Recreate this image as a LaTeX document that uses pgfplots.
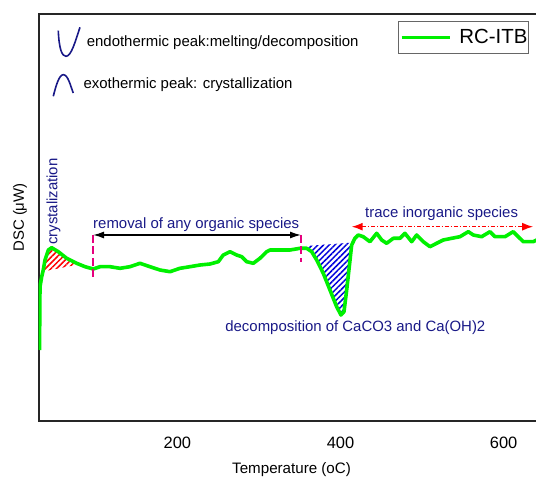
\documentclass[border=0pt]{standalone}
\usepackage{pgfplots}
\pgfplotsset{compat=1.18}
\usepackage{fontspec}
\setmainfont{Liberation Sans}
\usetikzlibrary{arrows.meta,patterns.meta,calc}

\definecolor{dscgreen}{RGB}{0,240,0}
\definecolor{annblue}{RGB}{25,25,135}
\definecolor{markpink}{RGB}{230,0,125}
\definecolor{hatchred}{RGB}{255,0,0}
\definecolor{hatchblue}{RGB}{0,0,220}

\begin{document}
\begin{tikzpicture}[font=\fontsize{15}{18}\selectfont]
\begin{axis}[
  scale only axis,
  width=505.7bp, height=407bp,
  xmin=30, xmax=650, ymin=0, ymax=407,
  xtick={200,400,600},
  ytick=\empty,
  major tick length=0pt,
  axis line style={line width=1.8bp, black!85},
  /pgf/number format/assume math mode=true,
  xticklabel style={font=\fontsize{16.5}{18}\selectfont, anchor=base, yshift=-27.3bp},
  xlabel={Temperature (oC)},
  ylabel={DSC (μW)},
  every axis x label/.style={at={(axis description cs:0.5,-0.129)}, anchor=base, font=\fontsize{15.2}{18}\selectfont},
  every axis y label/.style={at={(axis description cs:-0.0291,0.5)}, rotate=90, anchor=base, font=\fontsize{15}{18}\selectfont},
  legend style={at={(0.7111,0.9828)}, anchor=north west, draw=black!60, line width=0.9bp, fill=white,
    inner xsep=1bp, inner ysep=8bp, font=\fontsize{20.5}{22}\selectfont, nodes={inner sep=0pt},
    /tikz/every odd column/.append style={column sep=7.7bp}},
  legend cell align=left,
  legend image code/.code={\draw[#1] (0bp,0bp) -- (48.3bp,0bp);},
]
\coordinate (nw) at (rel axis cs:0,1);

% exothermic area (crystallization)
\addplot[forget plot, draw=none, pattern={Lines[angle=45,distance=4bp,line width=1.5bp]}, pattern color=hatchred]
  coordinates {(35.6,149.5) (37.7,161) (41.8,171) (45.9,173.3) (54.0,169.3) (64.3,162.7) (76.6,157.7) (78.2,156.5)};
% endothermic area (decomposition)
\addplot[forget plot, draw=none, pattern={Lines[angle=45,distance=4bp,line width=1.5bp]}, pattern color=hatchblue]
  coordinates {(358.5,175) (358.5,172.7) (364.7,169.3) (370.8,161) (378.9,147.7) (387.1,131) (395.3,114.3)
    (400.6,106) (404.3,109.3) (407.6,131) (410.8,154.3) (413.7,176) (415.2,178.5)};

% DSC curve
\addplot[dscgreen, line width=3.6bp, line join=round] coordinates {
  (31,71) (31.6,134.3) (33.7,144.3) (35.6,151) (37.7,161) (41.8,171) (45.9,173.3) (54.0,169.3)
  (64.3,162.7) (76.6,157.7) (86.8,154.3) (96.9,152) (105.1,154.3) (117.4,154.3) (129.7,152.7)
  (141.9,154.3) (154.2,157.7) (166.4,154.3) (178.7,151) (191.0,149.3) (203.2,152.7) (215.5,154.3)
  (227.7,156) (240.0,157) (250.2,159.3) (256.3,166) (264.5,169.3) (272.7,166) (278.9,164.3)
  (285.0,159.3) (293.1,157.7) (301.3,162.7) (309.5,169.3) (313.6,171) (325.8,171) (338.1,171)
  (350.3,172.7) (358.5,172.7) (364.7,169.3) (370.8,161) (378.9,147.7) (387.1,131) (395.3,114.3)
  (400.6,106) (404.3,109.3) (407.6,131) (410.8,154.3) (413.7,176) (417.7,182.7) (421.8,186)
  (427.9,184.3) (436.1,179.3) (444.4,187.7) (450.5,181) (456.6,177.7) (464.7,182.7) (472.9,182.7)
  (479.0,187.7) (487.3,179.3) (493.4,186) (501.5,179.3) (509.7,174.3) (517.9,177.7) (526.0,181)
  (536.3,182.7) (546.5,184.3) (556.7,189.3) (562.8,186) (573.1,184.3) (583.2,189.3) (589.4,184.3)
  (601.6,184.3) (611.8,189.3) (617.9,184.3) (624.1,179.3) (636.3,179.3) (640.5,181) (649.5,183)
};
\addlegendentry{RC-ITB}

% peak-type key
\draw[annblue, line width=1.6bp] (axis cs:54.0,390.3) .. controls (axis cs:55,372) and (axis cs:58.5,364.7) .. (axis cs:63.5,364.7)
  .. controls (axis cs:70,364.7) and (axis cs:75,380) .. (axis cs:80.6,393.7);
\node[anchor=base west, inner sep=0pt] at (axis cs:88.8,374.7) {endothermic peak:melting/decomposition};
\draw[annblue, line width=1.6bp] (axis cs:47.9,324.7) .. controls (axis cs:51,335) and (axis cs:55,346.3) .. (axis cs:60.2,346.3)
  .. controls (axis cs:66,346.3) and (axis cs:69,335) .. (axis cs:72.4,328);
\node[anchor=base west, inner sep=0pt] at (axis cs:84.7,332) {exothermic peak: crystallization};

% temperature ranges
\draw[markpink, line width=1.5bp, dash pattern=on 8bp off 3.5bp] (axis cs:96.6,186) -- (axis cs:96.6,141);
\draw[markpink, line width=1.5bp, dash pattern=on 8bp off 3.5bp] (axis cs:351.6,186) -- (axis cs:351.6,159);
\draw[black, line width=1.4bp, {Latex[length=11bp,width=7bp]}-{Latex[length=11bp,width=7bp]}]
  (axis cs:96.6,186) -- (axis cs:351.6,186);
\node[annblue, anchor=base west, inner sep=0pt] at (axis cs:96.6,192) {removal of any organic species};
\draw[hatchred, line width=1.5bp, dash pattern=on 4bp off 2bp on 1.2bp off 2bp,
  {Latex[length=11bp,width=8bp]}-{Latex[length=11bp,width=8bp]}] (axis cs:413.7,194.3) -- (axis cs:636.3,194.3);
\node[annblue, anchor=base, inner sep=0pt] at (axis cs:524,203.7) {trace inorganic species};
\node[annblue, anchor=base west, inner sep=0pt] at (axis cs:258.6,89.3) {decomposition of CaCO3 and Ca(OH)2};
\node[annblue, rotate=90, anchor=base west, inner sep=0pt] at (axis cs:52.8,176) {crystalization};
\end{axis}
\pgfresetboundingbox
\path[use as bounding box] ($(nw)+(-38.7bp,14bp)$) rectangle ($(nw)+(497.3bp,-464bp)$);
\end{tikzpicture}
\end{document}
